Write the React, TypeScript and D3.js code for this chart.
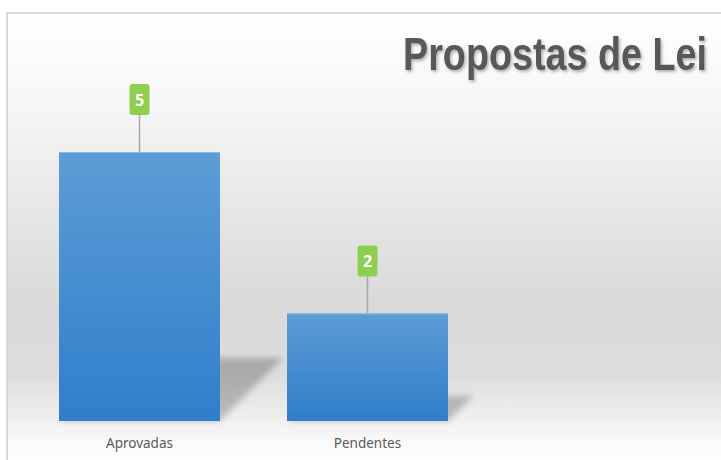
import React from "react";
import * as d3 from "d3";

const categories = ["Aprovadas", "Pendentes"];
const values = [5, 2];
const title = "Propostas de Lei";

export default function App() {
  const W = 721;
  const H = 460;
  const baseline = 421;
  const x = d3
    .scaleBand<string>()
    .domain(categories)
    .range([25.5, 481.5])
    .paddingInner(0.294)
    .paddingOuter(0.147);
  const y = d3.scaleLinear().domain([0, 5]).range([baseline, 152]);
  const bw = x.bandwidth();

  return (
    <svg
      width={W}
      height={H}
      style={{ position: "absolute", left: 0, top: 0, display: "block" }}
      xmlns="http://www.w3.org/2000/svg"
    >
      <defs>
        <linearGradient id="bg" x1="0" y1="0" x2="0" y2="1">
          <stop offset="0" stopColor="#ffffff" />
          <stop offset="0.2" stopColor="#f6f6f6" />
          <stop offset="0.62" stopColor="#dadada" />
          <stop offset="0.78" stopColor="#dcdcdc" />
          <stop offset="0.94" stopColor="#fbfbfb" />
          <stop offset="1" stopColor="#ffffff" />
        </linearGradient>
        <linearGradient id="bar" x1="0" y1="0" x2="0" y2="1">
          <stop offset="0" stopColor="#5d9cd6" />
          <stop offset="1" stopColor="#2f7ecb" />
        </linearGradient>
        <filter id="blur" x="-20%" y="-50%" width="140%" height="200%">
          <feGaussianBlur stdDeviation="3" />
        </filter>
        <filter id="tshadow" x="-5%" y="-20%" width="110%" height="150%">
          <feDropShadow dx="1.5" dy="2" stdDeviation="1.5" floodColor="#000" floodOpacity="0.3" />
        </filter>
      </defs>

      <rect x={0} y={0} width={W} height={H} fill="#ffffff" />
      <rect x={7} y={13} width={W} height={H} fill="url(#bg)" stroke="#d9d9d9" strokeWidth={2} />

      {/* shadows */}
      {categories.map((c, i) => {
        const x0 = x(c)!;
        const x1 = x0 + bw;
        const h = baseline - y(values[i]);
        const s = h * 0.235;
        const pts = [
          [x0, baseline],
          [x1, baseline],
          [x1 + s, baseline - s],
          [x0 + s, baseline - s],
        ];
        return (
          <polygon
            key={"s" + c}
            points={pts.map((p) => p.join(",")).join(" ")}
            fill="#000"
            opacity={0.22}
            filter="url(#blur)"
          />
        );
      })}

      {/* bars */}
      {categories.map((c, i) => (
        <g key={"b" + c}>
          <rect x={x(c)} y={y(values[i])} width={bw} height={baseline - y(values[i])} fill="url(#bar)" />
          <line
            x1={x(c)}
            x2={x(c)! + bw}
            y1={y(values[i]) + 0.5}
            y2={y(values[i]) + 0.5}
            stroke="#8fbbe3"
            strokeWidth={1}
          />
        </g>
      ))}

      {/* data labels */}
      {categories.map((c, i) => {
        const cx = x(c)! + bw / 2;
        const top = y(values[i]);
        const boxBottom = top - 37;
        const bh = 31;
        const bwid = 20;
        return (
          <g key={"l" + c}>
            <line x1={cx} x2={cx} y1={boxBottom} y2={top} stroke="#a6a6a6" strokeWidth={1.5} />
            <rect x={cx - bwid / 2} y={boxBottom - bh} width={bwid} height={bh} rx={3} fill="#8dcf4f" />
            <text
              x={cx}
              y={boxBottom - bh / 2 + 6}
              textAnchor="middle"
              fill="#ffffff"
              fontFamily="'Open Sans', 'Noto Sans', sans-serif"
              fontWeight="bold"
              fontSize={16}
            >
              {values[i]}
            </text>
          </g>
        );
      })}

      {/* category labels */}
      {categories.map((c) => (
        <text
          key={"c" + c}
          x={x(c)! + bw / 2}
          y={448}
          textAnchor="middle"
          fill="#595959"
          fontFamily="'Noto Sans', sans-serif"
          fontSize={13.5}
        >
          {c}
        </text>
      ))}

      {/* title */}
      <text
        x={403}
        y={70}
        fill="#595959"
        fontFamily="'Liberation Sans', Arial, sans-serif"
        fontWeight="bold"
        fontSize={47}
        textLength={304}
        lengthAdjust="spacingAndGlyphs"
        filter="url(#tshadow)"
      >
        {title}
      </text>
    </svg>
  );
}
